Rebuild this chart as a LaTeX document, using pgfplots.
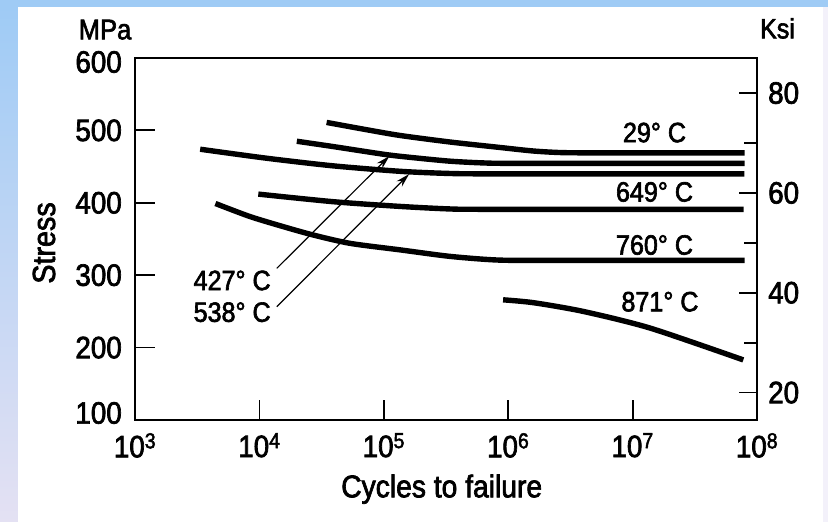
\documentclass[border=0pt]{standalone}
\usepackage{fontspec}
\setmainfont{Liberation Sans}[FakeStretch=0.9,BoldFont={Liberation Sans},BoldFeatures={FakeBold=2.2}]
\usepackage{pgfplots}
\pgfplotsset{compat=1.18}
\usetikzlibrary{arrows.meta}
\definecolor{bandblue}{HTML}{9FCBF5}
\definecolor{bandlav}{HTML}{E4E1F3}

\begin{document}
\begin{tikzpicture}
% page backdrop (blue band on top, shaded band on the left)
\fill[white] (-135bp,-102bp) rectangle (693bp,420bp);
\fill[bandblue] (-135bp,413bp) rectangle (693bp,420bp);
\shade[top color=bandblue, bottom color=bandlav] (-135bp,-102bp) rectangle (-117bp,413bp);
\fill[bandlav!45] (688bp,-102bp) rectangle (693bp,413bp);

\pgfplotsset{
  every axis/.append style={
    at={(0,0)}, anchor=south west,
    scale only axis, width=622bp, height=362bp,
    tick align=inside,
    axis line style={line width=2.8bp},
    every tick/.style={black, line width=1.8bp},
    ticklabel style={font=\bfseries\fontsize{31}{34}\selectfont, inner sep=0pt},
    /pgf/number format/assume math mode=true,
  }
}

% MPa axis + cycles
\begin{axis}[
  xmode=log, xmin=1e3, xmax=1e8,
  ymin=100, ymax=600,
  xtick={1e3,1e4,1e5,1e6,1e7,1e8},
  xticklabels={10\textsuperscript{3},10\textsuperscript{4},10\textsuperscript{5},10\textsuperscript{6},10\textsuperscript{7},10\textsuperscript{8}},
  xminorticks=false,
  ytick={100,200,300,400,500,600},
  yticklabels={\raisebox{7bp}[\height][\depth]{100},200,300,400,500,\raisebox{-4bp}[\height][\depth]{600}},
  xtick pos=bottom, ytick pos=left,
  major tick length=20bp,
  yticklabel style={anchor=east, xshift=-13bp},
  xticklabel style={anchor=north, yshift=-13bp},
  clip=false,
]
% 29 C
\addplot[black, line width=5.4bp, smooth, tension=0.45] coordinates {
  (3.47e4,511) (7.24e4,501) (1.35e5,493) (3.39e5,484) (8.51e5,476.5)
  (1.6e6,471.5) (2.75e6,469.3) (6e6,469) (7.94e7,469)
};
% 427 C
\addplot[black, line width=5.4bp, smooth, tension=0.45] coordinates {
  (2.0e4,485) (3.98e4,477.5) (1.0e5,467) (1.58e5,463) (3.39e5,457.5)
  (6.5e5,455) (1.2e6,454.5) (7.94e7,454.5)
};
% 538 C
\addplot[black, line width=5.4bp, smooth, tension=0.45] coordinates {
  (3.34e3,474) (1.15e4,461.5) (3.93e4,451) (1.35e5,443.5) (3.4e5,440.5)
  (8e5,440) (7.9e7,440)
};
% 649 C
\addplot[black, line width=5.4bp, smooth, tension=0.45] coordinates {
  (9.8e3,412) (3.93e4,401.5) (1.35e5,395) (3.4e5,391.5) (7e5,391) (7.8e7,391)
};
% 760 C
\addplot[black, line width=5.4bp, smooth, tension=0.45] coordinates {
  (4.43e3,399) (8.4e3,381) (1.56e4,367) (2.71e4,355.5) (5.35e4,344)
  (1.35e5,335) (3.4e5,326) (8.07e5,321) (2e6,320.5) (7.94e7,320.5)
};
% 871 C
\addplot[black, line width=5.4bp, smooth, tension=0.45] coordinates {
  (9.1e5,266) (1.6e6,262) (4.0e6,250) (1.38e7,227) (7.76e7,183)
};
% pointer arrows
\addplot[black, line width=1.2bp, -{Stealth[length=14bp,width=7.5bp]}] coordinates {
  (1.38e4,309.5) (1.11e5,464.6)
};
\addplot[black, line width=1.2bp, -{Stealth[length=14bp,width=7.5bp]}] coordinates {
  (1.38e4,256.5) (1.6e5,439.8)
};
\begin{scope}[every node/.style={font=\bfseries\fontsize{28}{31}\selectfont, inner sep=0pt, anchor=center}]
\node at (axis cs:1.5e7,497) {29° C};
\node at (axis cs:1.5e7,415) {649° C};
\node at (axis cs:1.5e7,341.7) {760° C};
\node at (axis cs:1.66e7,263.4) {871° C};
\node at (axis cs:6.04e3,292.7) {427° C};
\node at (axis cs:6.04e3,248.9) {538° C};
\end{scope}
\end{axis}

% Ksi axis on the right
\begin{axis}[
  xmin=0, xmax=1, xtick=\empty,
  ymin=14.5038, ymax=87.0226,
  ytick={20,40,60,80}, minor ytick={30,50,70},
  ytick pos=right, yticklabel pos=right,
  major tick length=18bp, minor tick length=13bp,
  yticklabel style={anchor=west, xshift=11bp},
]
\end{axis}

\node[font=\bfseries\fontsize{28.5}{31}\selectfont, anchor=base, inner sep=0pt] at (-30bp,380.7bp) {MPa};
\node[font=\bfseries\fontsize{28}{31}\selectfont, anchor=base, inner sep=0pt] at (642.5bp,381.7bp) {Ksi};
\node[font=\bfseries\fontsize{32}{35}\selectfont, rotate=90, inner sep=0pt] at (-91bp,177bp) {Stress};
\node[font=\bfseries\fontsize{31.5}{35}\selectfont, anchor=base, inner sep=0pt] at (306.7bp,-77.3bp) {Cycles to failure};

\pgfresetboundingbox
\path[use as bounding box] (-135bp,-102bp) rectangle (693bp,420bp);
\end{tikzpicture}
\end{document}
